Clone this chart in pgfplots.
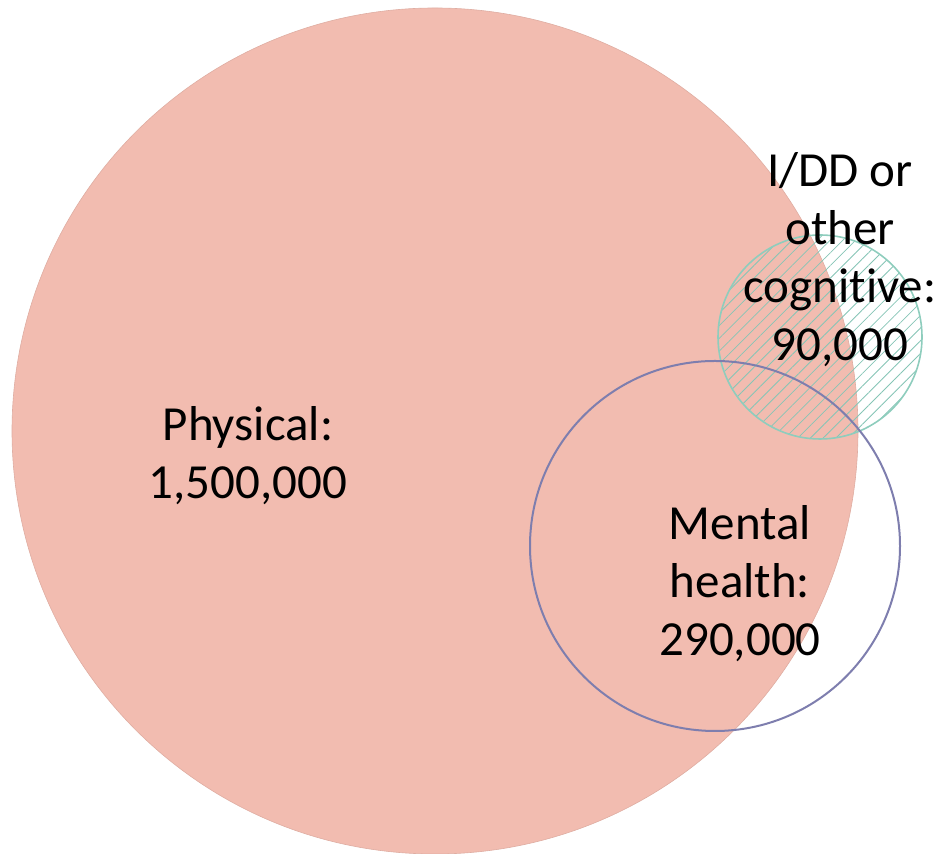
\documentclass[border=0pt]{standalone}
\usepackage{pgfplots}
\pgfplotsset{compat=1.18}
\usetikzlibrary{patterns.meta}
\usepackage{fontspec}
\setmainfont[Ligatures=NoCommon]{Carlito}
\definecolor{physfill}{HTML}{F2BCB0}
\definecolor{mentaledge}{HTML}{7E7EAE}
\definecolor{iddedge}{HTML}{8ECDBD}
\definecolor{iddhatch}{HTML}{86C5B6}
\begin{document}
\begin{tikzpicture}
\begin{axis}[
  x=0.5pt, y=0.5pt,
  xmin=0, xmax=936, ymin=0, ymax=854,
  axis line style={draw=none},
  xtick=\empty, ytick=\empty,
  clip=false,
  set layers,
]
% Physical circle (centre x, centre y; radius 423 px -> 211.5pt)
\addplot[only marks, mark=*, mark size=211.5pt,
  mark options={fill=physfill, draw=physfill!92!black, line width=0.3pt}]
  coordinates {(435,423)};
% I/DD circle (radius 102 px)
\addplot[only marks, mark=*, mark size=51pt,
  mark options={draw=iddedge, line width=0.8pt,
  pattern={Lines[angle=45, distance=4.5pt, line width=0.4pt]}, pattern color=iddhatch}]
  coordinates {(820,517)};
% Mental health circle (radius 185 px)
\addplot[only marks, mark=o, mark size=92.5pt,
  mark options={draw=mentaledge, line width=1pt}]
  coordinates {(715,308)};
\begin{pgfonlayer}{axis foreground}
\begin{scope}[font=\fontsize{24.5}{29}\selectfont, align=center, overlay]
\node at (axis cs:248,398) {Physical:\\1,500,000};
\node at (axis cs:840,594) {I/DD or\\other\\cognitive:\\90,000};
\node at (axis cs:740,270) {Mental\\health:\\290,000};
\end{scope}
\end{pgfonlayer}
\end{axis}
\end{tikzpicture}
\end{document}
